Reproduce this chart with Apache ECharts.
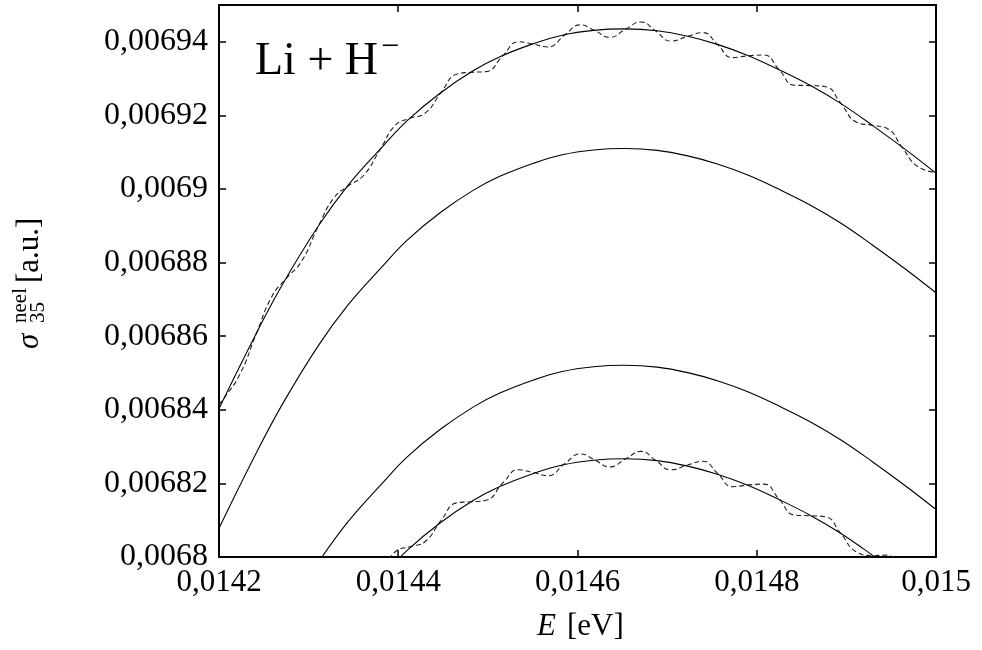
<!DOCTYPE html>
<html>
<head>
<meta charset="utf-8">
<script src="https://cdn.jsdelivr.net/npm/echarts@6/dist/echarts.min.js"></script>
<style>
html,body{margin:0;padding:0;background:#fff;}
#chart{width:982px;height:650px;}
</style>
</head>
<body>
<div id="chart"></div>
<script>
// Axis ranges and tick labels
const xMin = 0.0142, xMax = 0.015, xStep = 0.0002;
const yMin = 0.0068, yMax = 0.00695, yStep = 0.00002;
const xTickLabels = ['0,0142', '0,0144', '0,0146', '0,0148', '0,015'];
const yTickLabels = ['0,0068', '0,00682', '0,00684', '0,00686', '0,00688', '0,0069', '0,00692', '0,00694'];

// Series values [E, sigma]
const topSolid = [[0.014200,0.0068403],[0.014240,0.0068600],[0.014270,0.0068737],[0.014311,0.0068900],[0.014344,0.0069010],[0.014382,0.0069114],[0.014410,0.0069186],[0.014447,0.0069261],[0.014484,0.0069322],[0.014514,0.0069360],[0.014551,0.0069395],[0.014583,0.0069418],[0.014618,0.0069431],[0.014652,0.0069435],[0.014689,0.0069430],[0.014723,0.0069415],[0.014756,0.0069393],[0.014790,0.0069363],[0.014825,0.0069324],[0.014860,0.0069281],[0.014894,0.0069232],[0.014929,0.0069173],[0.014965,0.0069109],[0.015000,0.0069043]];

const topDashed = [[0.014200,0.0068414],[0.014206,0.0068433],[0.014223,0.0068495],[0.014242,0.0068609],[0.014259,0.0068708],[0.014275,0.0068757],[0.014292,0.0068803],[0.014311,0.0068900],[0.014328,0.0068975],[0.014344,0.0069008],[0.014361,0.0069036],[0.014380,0.0069108],[0.014397,0.0069174],[0.014413,0.0069192],[0.014430,0.0069206],[0.014448,0.0069263],[0.014465,0.0069312],[0.014481,0.0069317],[0.014498,0.0069319],[0.014517,0.0069363],[0.014534,0.0069400],[0.014550,0.0069394],[0.014567,0.0069386],[0.014586,0.0069419],[0.014603,0.0069446],[0.014619,0.0069431],[0.014636,0.0069412],[0.014654,0.0069435],[0.014671,0.0069454],[0.014687,0.0069430],[0.014704,0.0069402],[0.014723,0.0069415],[0.014740,0.0069425],[0.014756,0.0069393],[0.014773,0.0069357],[0.014791,0.0069362],[0.014808,0.0069364],[0.014825,0.0069324],[0.014842,0.0069282],[0.014860,0.0069281],[0.014877,0.0069278],[0.014894,0.0069232],[0.014911,0.0069182],[0.014929,0.0069173],[0.014946,0.0069164],[0.014962,0.0069114],[0.014979,0.0069062],[0.015000,0.0069045]];

const secondSolid = [[0.014200,0.0068078],[0.014240,0.0068275],[0.014270,0.0068412],[0.014311,0.0068575],[0.014344,0.0068685],[0.014382,0.0068789],[0.014410,0.0068861],[0.014447,0.0068936],[0.014484,0.0068997],[0.014514,0.0069035],[0.014551,0.0069070],[0.014583,0.0069093],[0.014618,0.0069106],[0.014652,0.0069110],[0.014689,0.0069105],[0.014723,0.0069090],[0.014756,0.0069068],[0.014790,0.0069038],[0.014825,0.0068999],[0.014860,0.0068956],[0.014894,0.0068907],[0.014929,0.0068848],[0.014965,0.0068784],[0.015000,0.0068718]];

const thirdSolid = [[0.014311,0.0067986],[0.014344,0.0068096],[0.014382,0.0068200],[0.014410,0.0068272],[0.014447,0.0068347],[0.014484,0.0068408],[0.014514,0.0068446],[0.014551,0.0068481],[0.014583,0.0068504],[0.014618,0.0068517],[0.014652,0.0068521],[0.014689,0.0068516],[0.014723,0.0068501],[0.014756,0.0068479],[0.014790,0.0068449],[0.014825,0.0068410],[0.014860,0.0068367],[0.014894,0.0068318],[0.014929,0.0068259],[0.014965,0.0068195],[0.015000,0.0068129]];

const bottomSolid = [[0.014382,0.0067946],[0.014410,0.0068018],[0.014447,0.0068093],[0.014484,0.0068154],[0.014514,0.0068192],[0.014551,0.0068227],[0.014583,0.0068250],[0.014618,0.0068263],[0.014652,0.0068267],[0.014689,0.0068262],[0.014723,0.0068247],[0.014756,0.0068225],[0.014790,0.0068195],[0.014825,0.0068156],[0.014860,0.0068113],[0.014894,0.0068064],[0.014929,0.0068005],[0.014965,0.0067941]];

const bottomDashed = [[0.014380,0.0067957],[0.014397,0.0068015],[0.014413,0.0068028],[0.014430,0.0068042],[0.014448,0.0068100],[0.014465,0.0068147],[0.014481,0.0068150],[0.014498,0.0068154],[0.014517,0.0068202],[0.014534,0.0068237],[0.014550,0.0068230],[0.014567,0.0068221],[0.014586,0.0068254],[0.014603,0.0068280],[0.014619,0.0068264],[0.014636,0.0068245],[0.014654,0.0068267],[0.014671,0.0068287],[0.014687,0.0068263],[0.014704,0.0068237],[0.014723,0.0068250],[0.014740,0.0068260],[0.014756,0.0068228],[0.014773,0.0068191],[0.014791,0.0068196],[0.014808,0.0068198],[0.014825,0.0068157],[0.014842,0.0068114],[0.014860,0.0068112],[0.014877,0.0068109],[0.014894,0.0068063],[0.014911,0.0068014],[0.014929,0.0068004],[0.014946,0.0068005],[0.014962,0.0067948]];

const FONT = '"Liberation Serif", "DejaVu Serif", serif';

function labelFormatter(labels, min, step) {
  return function (v) {
    const i = Math.round((v - min) / step);
    if (i >= 0 && i < labels.length && Math.abs(v - (min + i * step)) < step * 1e-3) return labels[i];
    return '';
  };
}

function axisBase(min, max, step) {
  return {
    type: 'value', min: min, max: max, interval: step, scale: true,
    axisLine: { show: true, onZero: false, lineStyle: { color: '#000', width: 2 } },
    axisTick: { show: true, inside: true, length: 7, lineStyle: { color: '#000', width: 1.5 } },
    splitLine: { show: false },
    nameMoveOverlap: false
  };
}

const chart = echarts.init(document.getElementById('chart'), null, { renderer: 'canvas' });

const solidStyle = { color: '#000', width: 1.1 };
const dashStyle = { color: '#222', width: 1.1, type: [5, 3] };

function lineSeries(data, style, smooth) {
  return {
    type: 'line', data: data, showSymbol: false, symbol: 'none', smooth: smooth,
    lineStyle: style, clip: true, silent: true, xAxisIndex: 0, yAxisIndex: 0
  };
}

function txt(x, y, text, font) {
  return { type: 'text', x: x, y: y, style: { text: text, font: font, fill: '#000',
    textAlign: 'left', textVerticalAlign: 'middle', align: 'left', verticalAlign: 'middle' } };
}

chart.setOption({
  animation: false,
  backgroundColor: '#fff',
  grid: { left: 219, right: 46, top: 5, bottom: 93, containLabel: false, outerBoundsMode: 'none' },
  xAxis: [
    Object.assign(axisBase(xMin, xMax, xStep), {
      position: 'bottom',
      axisLabel: { show: true, showMinLabel: true, showMaxLabel: true, hideOverlap: false,
        formatter: labelFormatter(xTickLabels, xMin, xStep),
        fontFamily: FONT, fontSize: 31, color: '#000', margin: 10 }
    }),
    Object.assign(axisBase(xMin, xMax, xStep), {
      position: 'top', axisLabel: { show: false }
    })
  ],
  yAxis: [
    Object.assign(axisBase(yMin, yMax, yStep), {
      position: 'left',
      axisLabel: { show: true, showMinLabel: true, showMaxLabel: true, hideOverlap: false,
        formatter: labelFormatter(yTickLabels, yMin, yStep),
        fontFamily: FONT, fontSize: 32, color: '#000', margin: 11 }
    }),
    Object.assign(axisBase(yMin, yMax, yStep), {
      position: 'right', axisLabel: { show: false }
    })
  ],
  series: [
    lineSeries(topDashed, dashStyle, 0.5),
    lineSeries(topSolid, solidStyle, 0.4),
    lineSeries(secondSolid, solidStyle, 0.4),
    lineSeries(thirdSolid, solidStyle, 0.4),
    lineSeries(bottomDashed, dashStyle, 0.5),
    lineSeries(bottomSolid, solidStyle, 0.4)
  ],
  graphic: [
    txt(255, 62, 'Li + H', '46px ' + FONT),
    txt(381, 48, '\u2212', '32px ' + FONT),
    txt(537, 627, 'E', 'italic 31px ' + FONT),
    txt(567, 627, '[eV]', '31px ' + FONT),
    { type: 'group', x: 30, y: 349, rotation: Math.PI / 2, children: [
      txt(0, 0, '\u03c3', 'italic 31px ' + FONT),
      txt(26, 8, '35', '21px ' + FONT),
      txt(26, -10, 'neel', '21px ' + FONT),
      txt(66, 0, '[a.u.]', '31px ' + FONT)
    ] }
  ]
});
</script>
</body>
</html>
